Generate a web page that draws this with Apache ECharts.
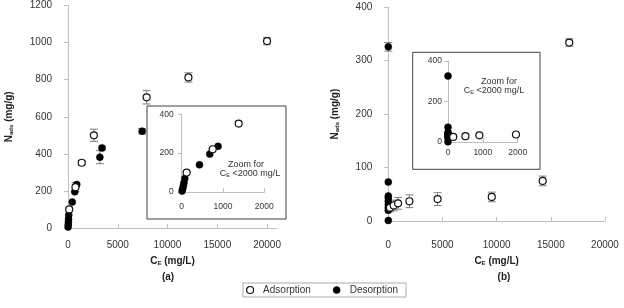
<!DOCTYPE html>
<html>
<head>
<meta charset="utf-8">
<script src="https://cdn.jsdelivr.net/npm/echarts@6/dist/echarts.min.js"></script>
<style>
  html, body { margin: 0; padding: 0; background: #fff; }
  #chart { width: 624px; height: 308px; }
</style>
</head>
<body>
<div id="chart"></div>
<script>
// [Ce (mg/L), Nads (mg/g), error]
const adsorptionA = [[120, 100, 0], [750, 220, 25], [1380, 352, 12], [2600, 500, 33], [7900, 705, 36], [12100, 812, 25], [20000, 1008, 20]];
const desorptionA = [[10, 5, 0], [25, 18, 0], [40, 32, 0], [55, 48, 0], [75, 70, 0], [430, 140, 0], [680, 195, 0], [880, 235, 0], [3200, 382, 35], [3420, 432, 10], [7450, 522, 15]];
const adsorptionB = [[150, 25, 8], [500, 29, 10], [900, 33, 11], [1950, 37, 12], [4550, 41, 12], [9550, 45, 9], [14250, 75, 9], [16700, 334, 7]];
const desorptionB = [[0, 1, 0], [0, 20, 0], [0, 25, 0], [0, 31, 0], [0, 37, 0], [0, 43, 0], [0, 47, 0], [0, 73, 0], [0, 326, 8]];

const seriesNames = ['Adsorption', 'Desorption'];
const panelLabels = ['(a)', '(b)'];
const insetNote = 'Zoom for';

const font = 'Liberation Sans';
const axisGray = '#bfbfbf';
const textColor = '#333';

const chart = echarts.init(document.getElementById('chart'));

const nameRich = {
  n: { fontFamily: font, fontSize: 10, fontWeight: 'bold', color: '#222' },
  s: { fontFamily: font, fontSize: 6, fontWeight: 'bold', color: '#222', verticalAlign: 'bottom', padding: [4, 0, 0, 0] },
};

const openStyle = { color: '#fff', borderColor: '#111', borderWidth: 1.2, opacity: 1 };
const filledStyle = { color: '#000', borderColor: '#000', borderWidth: 0.5, opacity: 1 };

function mainAxis(opts) {
  return {
    type: 'value',
    gridIndex: opts.grid,
    min: 0,
    max: opts.max,
    interval: opts.interval,
    name: opts.name,
    nameLocation: 'middle',
    nameGap: opts.nameGap,
    nameTextStyle: { rich: nameRich },
    axisLine: { show: true, onZero: false, lineStyle: { color: axisGray } },
    axisTick: { show: true, inside: opts.tickInside, length: 4, lineStyle: { color: axisGray } },
    axisLabel: {
      margin: opts.labelMargin,
      fontFamily: font,
      fontSize: opts.fontSize || 10,
      color: textColor,
      showMaxLabel: opts.showMax !== false,
      formatter: (v) => String(v),
    },
    splitLine: { show: false },
  };
}

function errorBars(name, data, axis) {
  return {
    type: 'custom',
    name: name + ' error',
    xAxisIndex: axis,
    yAxisIndex: axis,
    z: 1,
    silent: true,
    data,
    encode: { x: 0, y: 1 },
    renderItem(params, api) {
      const e = api.value(2);
      if (!e) {
        return null;
      }
      const x = api.value(0);
      const y = api.value(1);
      const lo = api.coord([x, y - e]);
      const hi = api.coord([x, y + e]);
      const w = 4;
      const style = { stroke: '#808080', lineWidth: 1 };
      return {
        type: 'group',
        children: [
          { type: 'line', shape: { x1: lo[0], y1: lo[1], x2: hi[0], y2: hi[1] }, style },
          { type: 'line', shape: { x1: lo[0] - w, y1: lo[1], x2: lo[0] + w, y2: lo[1] }, style },
          { type: 'line', shape: { x1: hi[0] - w, y1: hi[1], x2: hi[0] + w, y2: hi[1] }, style },
        ],
      };
    },
  };
}

function points(name, data, axis, filled) {
  return {
    type: 'scatter',
    name,
    xAxisIndex: axis,
    yAxisIndex: axis,
    z: 2,
    symbol: 'circle',
    symbolSize: 7,
    clip: true,
    data: data.map((d) => [d[0], d[1]]),
    itemStyle: filled ? filledStyle : openStyle,
  };
}

const xName = '{n|C}{s|E}{n| (mg/L)}';
const yName = '{n|N}{s|ads}{n| (mg/g)}';
const noteRich = {
  t: { fontFamily: font, fontSize: 9, fill: textColor },
  s: { fontFamily: font, fontSize: 5.5, fill: textColor, verticalAlign: 'bottom', padding: [3, 0, 0, 0] },
};

chart.setOption({
  animation: false,
  grid: [
    { left: 68, top: 5.5, width: 209, height: 222.5 },
    { left: 181.7, top: 114.3, width: 82.6, height: 77.7 },
    { left: 388.3, top: 7.3, width: 216.7, height: 213.7 },
    { left: 448, top: 61, width: 69.7, height: 81 },
  ],
  xAxis: [
    mainAxis({ grid: 0, max: 21000, interval: 5000, name: xName, nameGap: 28, tickInside: true, labelMargin: 12, showMax: false }),
    mainAxis({ grid: 1, max: 2000, interval: 1000, tickInside: true, labelMargin: 10, fontSize: 8.5 }),
    mainAxis({ grid: 2, max: 20000, interval: 5000, name: xName, nameGap: 35, tickInside: true, labelMargin: 19 }),
    mainAxis({ grid: 3, max: 2000, interval: 1000, tickInside: true, labelMargin: 6, fontSize: 8.5 }),
  ],
  yAxis: [
    mainAxis({ grid: 0, max: 1200, interval: 200, name: yName, nameGap: 54, tickInside: false, labelMargin: 16 }),
    mainAxis({ grid: 1, max: 400, interval: 200, tickInside: false, labelMargin: 8, fontSize: 8.5 }),
    mainAxis({ grid: 2, max: 400, interval: 100, name: yName, nameGap: 48, tickInside: false, labelMargin: 16 }),
    mainAxis({ grid: 3, max: 400, interval: 200, tickInside: false, labelMargin: 6, fontSize: 8.5 }),
  ],
  legend: {
    left: 243,
    top: 283,
    padding: [2, 8, 2, 3],
    itemWidth: 16,
    itemHeight: 7,
    itemGap: 22,
    borderColor: '#aaa',
    borderWidth: 1,
    textStyle: { fontFamily: font, fontSize: 10, color: textColor },
    data: [
      { name: seriesNames[0], icon: 'circle', itemStyle: openStyle },
      { name: seriesNames[1], icon: 'circle', itemStyle: filledStyle },
    ],
  },
  graphic: [
    { type: 'rect', shape: { x: 147, y: 106, width: 139, height: 113 }, style: { fill: 'none', stroke: '#404040', lineWidth: 1 } },
    { type: 'rect', shape: { x: 412.7, y: 52.3, width: 127.3, height: 117 }, style: { fill: 'none', stroke: '#404040', lineWidth: 1 } },
    { type: 'text', x: 246, y: 165, style: { text: insetNote, align: 'center', verticalAlign: 'middle', fontFamily: font, fontSize: 9, fill: textColor } },
    { type: 'text', x: 250, y: 174, style: { text: '{t|C}{s|E}{t| <2000 mg/L}', align: 'center', verticalAlign: 'middle', rich: noteRich } },
    { type: 'text', x: 499, y: 81.7, style: { text: insetNote, align: 'center', verticalAlign: 'middle', fontFamily: font, fontSize: 9, fill: textColor } },
    { type: 'text', x: 494, y: 90.5, style: { text: '{t|C}{s|E}{t| <2000 mg/L}', align: 'center', verticalAlign: 'middle', rich: noteRich } },
    { type: 'text', x: 168, y: 277, style: { text: panelLabels[0], align: 'center', verticalAlign: 'middle', fontFamily: font, fontSize: 10, fontWeight: 'bold', fill: '#222' } },
    { type: 'text', x: 504, y: 277, style: { text: panelLabels[1], align: 'center', verticalAlign: 'middle', fontFamily: font, fontSize: 10, fontWeight: 'bold', fill: '#222' } },
  ],
  series: [
    errorBars(seriesNames[0], adsorptionA, 0),
    errorBars(seriesNames[1], desorptionA, 0),
    points(seriesNames[1], desorptionA, 0, true),
    points(seriesNames[0], adsorptionA, 0, false),
    points(seriesNames[1], desorptionA, 1, true),
    points(seriesNames[0], adsorptionA, 1, false),
    errorBars(seriesNames[0], adsorptionB, 2),
    errorBars(seriesNames[1], desorptionB, 2),
    points(seriesNames[1], desorptionB, 2, true),
    points(seriesNames[0], adsorptionB, 2, false),
    points(seriesNames[1], desorptionB, 3, true),
    points(seriesNames[0], adsorptionB, 3, false),
  ],
});
</script>
</body>
</html>
